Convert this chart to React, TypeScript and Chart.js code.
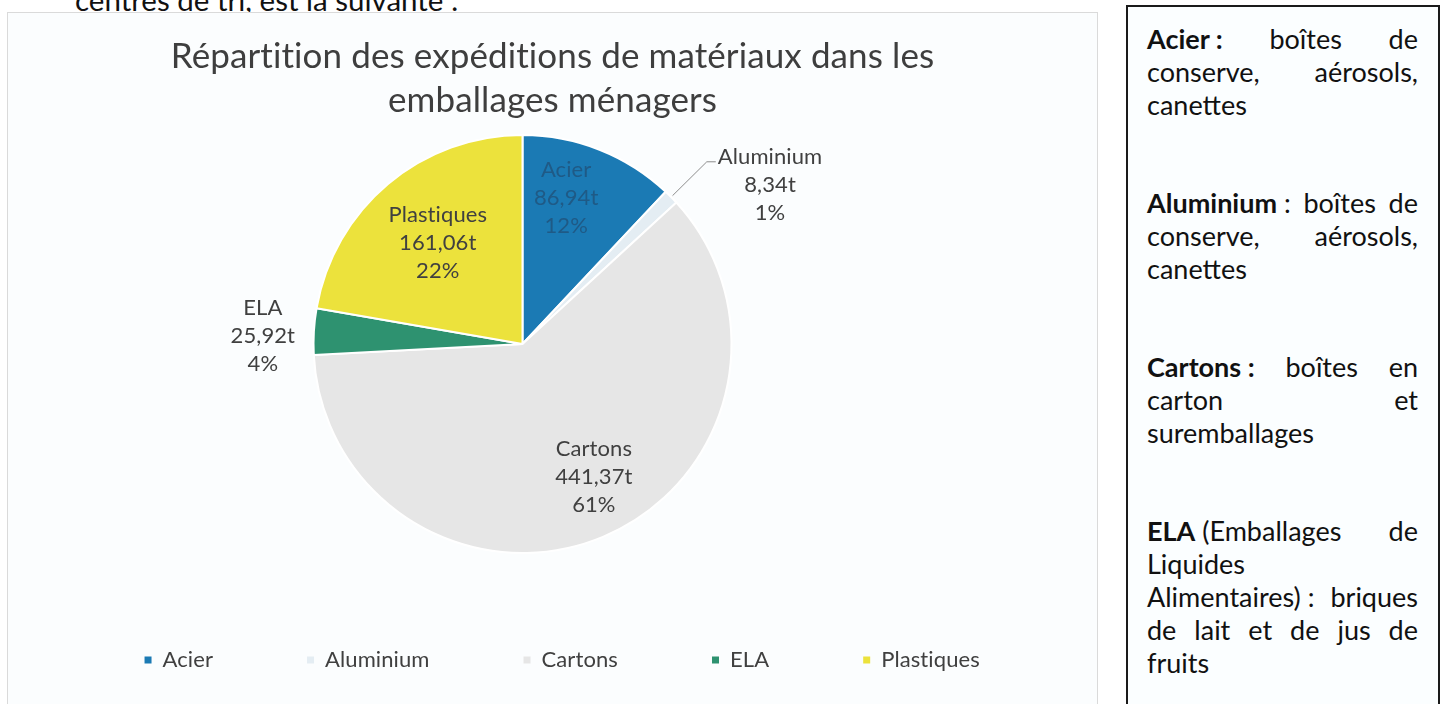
import React, { useEffect, useRef } from 'react';
import { Chart, registerables } from 'chart.js';

Chart.register(...registerables);

// ---- data ----
const categories = ['Acier', 'Aluminium', 'Cartons', 'ELA', 'Plastiques'];
const tonnages = [86.94, 8.34, 441.37, 25.92, 161.06];
const sliceColors = ['#1b7ab4', '#e4edf3', '#e6e6e6', '#2e9270', '#ece23c'];
const titleLines = ['Répartition des expéditions de matériaux dans les', 'emballages ménagers'];

const FONT = 'Lato, "Open Sans", sans-serif';

type Placement = {
  mode: 'inside' | 'outside' | 'leader';
  radial: number;
  angleShift?: number;
  dy?: number;
  color: string;
};

const labelPlacements: Placement[] = [
  { mode: 'inside', radial: 0.73, angleShift: -5, color: '#1f5a86' },
  { mode: 'leader', radial: 1.24, color: '#404040' },
  { mode: 'inside', radial: 0.72, angleShift: -5.5, color: '#404040' },
  { mode: 'outside', radial: 1.09, dy: 6, color: '#404040' },
  { mode: 'inside', radial: 0.63, angleShift: 0, color: '#404040' },
];

const pieShiftX = -30;
const legendShiftX = 8;

const fmt = (v: number) => v.toFixed(2).replace('.', ',');

const shiftPlugin = {
  id: 'shiftArea',
  afterLayout(chart: any) {
    chart.chartArea.left += pieShiftX;
    chart.chartArea.right += pieShiftX;
    if (chart.legend) {
      chart.legend.left += legendShiftX;
      chart.legend.right += legendShiftX;
    }
  },
  beforeDraw(chart: any) {
    // non-zero spacing turns off the "ti" ligatures of Lato
    (chart.ctx as any).letterSpacing = '0.1px';
  },
};

const sliceLabelPlugin = {
  id: 'sliceLabels',
  afterDatasetsDraw(chart: any) {
    const ctx = chart.ctx as CanvasRenderingContext2D;
    const meta = chart.getDatasetMeta(0);
    const values = chart.data.datasets[0].data as number[];
    const total = values.reduce((a, b) => a + b, 0);
    const lh = 28;
    ctx.save();
    ctx.font = `22px ${FONT}`;
    ctx.textBaseline = 'middle';
    ctx.textAlign = 'center';
    meta.data.forEach((arc: any, i: number) => {
      const p = arc.getProps(['x', 'y', 'startAngle', 'endAngle', 'outerRadius'], true);
      const place = labelPlacements[i];
      const lines = [
        chart.data.labels[i] as string,
        fmt(values[i]) + 't',
        Math.round((values[i] / total) * 100) + '%',
      ];
      const mid = (p.startAngle + p.endAngle) / 2 + ((place.angleShift || 0) * Math.PI) / 180;
      const r = p.outerRadius * place.radial;
      const ax = p.x + Math.cos(mid) * r;
      const ay = p.y + Math.sin(mid) * r;
      const w = Math.max(...lines.map((l) => ctx.measureText(l).width));
      let cx = ax;
      let cy = ay;
      if (place.mode === 'outside') {
        const left = Math.cos(mid) < 0;
        cx = left ? ax - w / 2 : ax + w / 2;
        cy = ay + (place.dy || 0);
      } else if (place.mode === 'leader') {
        const ex = p.x + Math.cos(mid) * (p.outerRadius + 2);
        const ey = p.y + Math.sin(mid) * (p.outerRadius + 2);
        const right = Math.cos(mid) >= 0;
        const hx = ax + (right ? 9 : -9);
        ctx.strokeStyle = '#8c8c8c';
        ctx.lineWidth = 1;
        ctx.beginPath();
        ctx.moveTo(ex, ey);
        ctx.lineTo(ax, ay);
        ctx.lineTo(hx, ay);
        ctx.stroke();
        cx = right ? hx + 2 + w / 2 : hx - 2 - w / 2;
        cy = ay - 5 + lh;
      }
      ctx.fillStyle = place.color;
      lines.forEach((l, k) => ctx.fillText(l, cx, cy + (k - 1) * lh));
    });
    ctx.restore();
  },
};

function PieChart() {
  const ref = useRef<HTMLCanvasElement | null>(null);
  useEffect(() => {
    if (!ref.current) return;
    const chart = new Chart(ref.current, {
      type: 'pie',
      data: {
        labels: categories,
        datasets: [
          {
            data: tonnages,
            backgroundColor: sliceColors,
            borderColor: '#ffffff',
            borderWidth: 2,
            radius: 209,
          } as any,
        ],
      },
      options: {
        animation: false,
        responsive: true,
        maintainAspectRatio: false,
        layout: { padding: { top: 0, bottom: 32, left: 0, right: 0 } },
        plugins: {
          tooltip: { enabled: false },
          title: {
            display: true,
            text: titleLines,
            color: '#3e3e3e',
            font: { family: FONT, size: 35, weight: 'normal', lineHeight: 44 / 35 },
            padding: { top: 22, bottom: 10 },
          },
          legend: {
            position: 'bottom',
            labels: {
              boxWidth: 7,
              boxHeight: 7,
              padding: 94,
              color: '#404040',
              font: { family: FONT, size: 22 },
              generateLabels: (c: any) =>
                (c.data.labels as string[]).map((t, i) => ({
                  text: t,
                  fillStyle: sliceColors[i],
                  strokeStyle: sliceColors[i],
                  lineWidth: 0,
                  hidden: false,
                  index: i,
                  fontColor: '#404040',
                })),
            },
          },
        },
      } as any,
      plugins: [shiftPlugin, sliceLabelPlugin],
    });
    return () => chart.destroy();
  }, []);
  return <canvas ref={ref} style={{ width: '100%', height: '100%', display: 'block' }} />;
}

const boxFont = `27px ${FONT}`;
const LINE = 33;

function JLine({ children, last }: { children: React.ReactNode; last?: boolean }) {
  return (
    <div
      style={{
        textAlign: last ? 'left' : 'justify',
        textAlignLast: last ? 'left' : 'justify',
        height: LINE,
        lineHeight: `${LINE}px`,
      } as any}
    >
      {children}
    </div>
  );
}

const nb: React.CSSProperties = { display: 'inline-block', whiteSpace: 'nowrap' };
const para: React.CSSProperties = { marginBottom: 65 };

export default function App() {
  return (
    <div
      style={{
        position: 'absolute',
        left: 0,
        top: 0,
        width: 1448,
        height: 704,
        overflow: 'hidden',
        background: '#ffffff',
        fontFamily: FONT,
        fontVariantLigatures: 'none',
      }}
    >
      <div
        style={{
          position: 'absolute',
          left: 75,
          top: -17,
          font: `29.5px ${FONT}`,
          lineHeight: '34px',
          color: '#111',
          whiteSpace: 'nowrap',
        }}
      >
        centres de tri, est la suivante :
      </div>
      <div
        style={{
          position: 'absolute',
          left: 7,
          top: 12,
          width: 1089,
          height: 720,
          border: '1px solid #dadada',
          background: '#fbfdfe',
        }}
      >
        <div style={{ position: 'relative', width: 1089, height: 700 }}>
          <PieChart />
        </div>
      </div>
      <div
        style={{
          position: 'absolute',
          left: 1126,
          top: 5,
          width: 271,
          height: 720,
          border: '2px solid #1a1a1a',
          paddingLeft: 19,
          paddingRight: 20,
          paddingTop: 15,
          background: '#fbfeff',
          font: boxFont,
          color: '#111',
        }}
      >
        <div style={para}>
          <JLine>
            <b style={nb}>Acier :</b> boîtes de
          </JLine>
          <JLine>conserve, aérosols,</JLine>
          <JLine last>canettes</JLine>
        </div>
        <div style={para}>
          <JLine>
            <span style={nb}>
              <b>Aluminium</b> :
            </span>{' '}
            boîtes de
          </JLine>
          <JLine>conserve, aérosols,</JLine>
          <JLine last>canettes</JLine>
        </div>
        <div style={para}>
          <JLine>
            <b style={nb}>Cartons :</b> boîtes en
          </JLine>
          <JLine>carton et</JLine>
          <JLine last>suremballages</JLine>
        </div>
        <div>
          <JLine>
            <span style={nb}>
              <b>ELA</b> (Emballages
            </span>{' '}
            de
          </JLine>
          <JLine last>Liquides</JLine>
          <JLine>
            <span style={nb}>Alimentaires) :</span> briques
          </JLine>
          <JLine>de lait et de jus de</JLine>
          <JLine last>fruits</JLine>
        </div>
      </div>
    </div>
  );
}
